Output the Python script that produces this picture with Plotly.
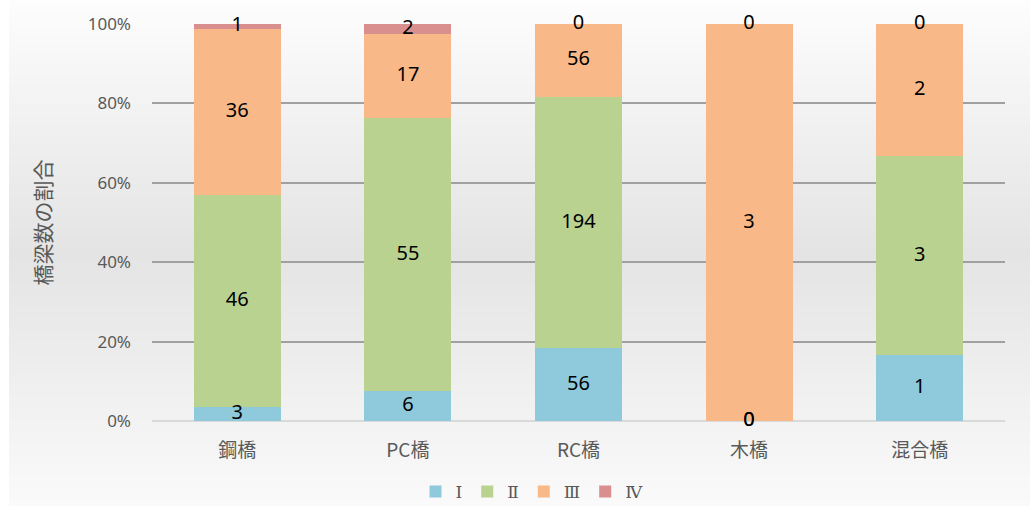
import base64, struct, zlib
import plotly.graph_objects as go

categories = ["鋼橋", "PC橋", "RC橋", "木橋", "混合橋"]
series_names = ["Ⅰ", "Ⅱ", "Ⅲ", "Ⅳ"]
s1 = [3, 6, 56, 0, 1]
s2 = [46, 55, 194, 0, 3]
s3 = [36, 17, 56, 3, 2]
s4 = [1, 2, 0, 0, 0]
series_values = [s1, s2, s3, s4]
colors = ["#8ecadb", "#bad290", "#f9b888", "#d98f8d"]
y_tickvals = [0, 20, 40, 60, 80, 100]
y_ticktext = ["0%", "20%", "40%", "60%", "80%", "100%"]

W, H = 1030, 506
L, R, T, B = 152, 25, 24, 85


def grad_png():
    h = 128
    rows = b""
    for i in range(h):
        t = i / (h - 1)
        if t < 0.5:
            v = 253 - (253 - 228) * (t / 0.5)
        else:
            v = 228 + (250 - 228) * ((t - 0.5) / 0.5)
        v = int(round(v))
        rows += b"\x00" + bytes([v, v, v])
    def chunk(tag, data):
        c = struct.pack(">I", len(data)) + tag + data
        return c + struct.pack(">I", zlib.crc32(tag + data) & 0xffffffff)
    png = b"\x89PNG\r\n\x1a\n"
    png += chunk(b"IHDR", struct.pack(">IIBBBBB", 1, h, 8, 2, 0, 0, 0))
    png += chunk(b"IDAT", zlib.compress(rows))
    png += chunk(b"IEND", b"")
    return "data:image/png;base64," + base64.b64encode(png).decode()


fig = go.Figure()
for name, vals, col in zip(series_names, series_values, colors):
    fig.add_trace(go.Bar(
        x=categories, y=vals, name=name,
        marker=dict(color=col, line=dict(width=0)),
        hoverinfo="x+y+name",
    ))

# data labels at segment centres (percent of bar total)
lx, ly, lt = [], [], []
for ci, cat in enumerate(categories):
    total = sum(sv[ci] for sv in series_values)
    cum = 0.0
    for sv in series_values:
        v = sv[ci]
        pct = 100.0 * v / total if total else 0
        lx.append(cat)
        ly.append(cum + pct / 2)
        lt.append(str(v))
        cum += pct
fig.add_trace(go.Scatter(
    x=lx, y=ly, text=lt, mode="text", showlegend=False, hoverinfo="skip",
    textfont=dict(family="Noto Sans, Noto Sans CJK JP", size=20, color="#000000"),
    cliponaxis=False,
))

pw = W - L - R
ph = H - T - B
fig.add_layout_image(dict(
    source=grad_png(), xref="paper", yref="paper",
    x=(9 - L) / pw, y=1 + T / ph, sizex=(W - 9) / pw, sizey=H / ph,
    sizing="stretch", xanchor="left", yanchor="top", layer="below",
))

fig.update_layout(
    width=W, height=H,
    margin=dict(l=L, r=R, t=T, b=B, autoexpand=False),
    barmode="stack", barnorm="percent", bargap=0.49,
    paper_bgcolor="#ffffff", plot_bgcolor="rgba(0,0,0,0)",
    font=dict(family="Noto Sans CJK JP", color="#595959"),
    showlegend=True,
    legend=dict(orientation="h", xref="container", x=532 / W, xanchor="center",
                yref="container", y=(H - 492) / H, yanchor="middle",
                font=dict(family="DejaVu Serif, Noto Sans CJK JP", size=17, color="#595959"),
                itemwidth=30, traceorder="normal", bgcolor="rgba(0,0,0,0)"),
    xaxis=dict(tickfont=dict(size=19, color="#595959"), showgrid=False, ticks="",
               showline=False, ticklabelstandoff=16),
    yaxis=dict(range=[0, 100], tickmode="array", tickvals=y_tickvals, ticktext=y_ticktext,
               tickfont=dict(family="Noto Sans, Noto Sans CJK JP", size=17, color="#595959"),
               showgrid=True, gridcolor="#a0a0a0", gridwidth=1.5,
               zeroline=True, zerolinecolor="#d9d9d9", zerolinewidth=2,
               title=dict(text="橋梁数の割合", font=dict(size=21, color="#595959"), standoff=30),
               ticklabelstandoff=20),
)

fig.write_html("out.html", config={"displayModeBar": False},
               post_script="document.body.style.margin='0';document.body.style.overflow='hidden';")
